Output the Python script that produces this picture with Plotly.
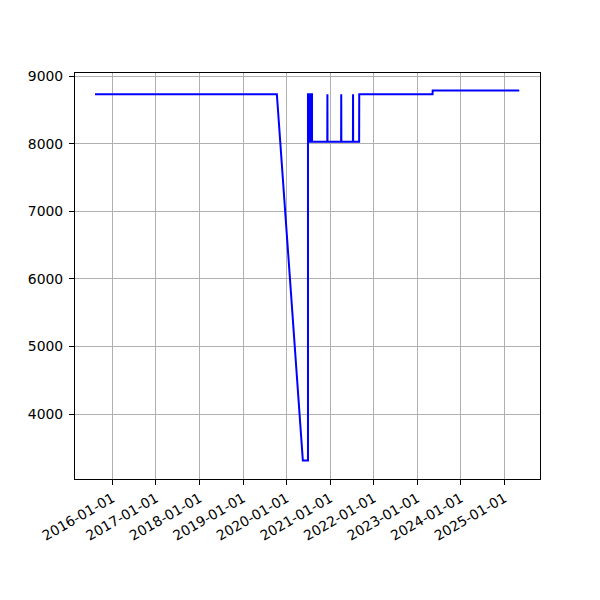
import plotly.graph_objects as go

dates = [
    "2015-08-09", "2019-10-12", "2020-05-17", "2020-06-29",
    "2020-06-29", "2020-07-03", "2020-07-03", "2020-07-08", "2020-07-08",
    "2020-07-13", "2020-07-13", "2020-07-18", "2020-07-18", "2020-07-23",
    "2020-07-23", "2020-07-28", "2020-07-28", "2020-08-02", "2020-08-02",
    "2020-12-08", "2020-12-09", "2020-12-10",
    "2021-04-03", "2021-04-04", "2021-04-05",
    "2021-07-11", "2021-07-12", "2021-07-13",
    "2021-09-01", "2021-09-02",
    "2023-05-10", "2023-05-11", "2025-05-06",
]
values = [
    8736, 8736, 3312, 3312,
    8736, 8736, 8030, 8030, 8736,
    8736, 8030, 8030, 8736, 8736,
    8030, 8030, 8736, 8736, 8030,
    8030, 8736, 8030,
    8030, 8736, 8030,
    8030, 8736, 8030,
    8030, 8736,
    8736, 8790, 8790,
]

x_ticks = ["2016-01-01", "2017-01-01", "2018-01-01", "2019-01-01", "2020-01-01",
           "2021-01-01", "2022-01-01", "2023-01-01", "2024-01-01", "2025-01-01"]
y_ticks = [4000, 5000, 6000, 7000, 8000, 9000]

fig = go.Figure()
fig.add_trace(go.Scatter(x=dates, y=values, mode="lines",
                         line=dict(color="#0000ff", width=2), showlegend=False))

font = dict(family="DejaVu Sans", size=13.9, color="black")
fig.update_layout(
    width=600, height=600,
    margin=dict(l=67, r=68, t=65, b=129),
    paper_bgcolor="white", plot_bgcolor="white",
    font=font,
)
fig.update_xaxes(
    type="date", range=["2015-02-22", "2025-10-27"],
    tickvals=x_ticks, ticktext=x_ticks, tickangle=-30,
    showgrid=True, gridcolor="#b0b0b0", gridwidth=1,
    showline=True, linecolor="black", linewidth=1, mirror=True,
    ticks="outside", ticklen=5, tickwidth=1, tickcolor="black",
    zeroline=False, automargin=False,
)
fig.update_yaxes(
    range=[3039, 9049], tickvals=y_ticks,
    showgrid=True, gridcolor="#b0b0b0", gridwidth=1,
    showline=True, linecolor="black", linewidth=1, mirror=True,
    ticks="outside", ticklen=5, tickwidth=1, tickcolor="black",
    zeroline=False, automargin=False, ticklabelstandoff=3,
)
fig.write_html("out.html")
